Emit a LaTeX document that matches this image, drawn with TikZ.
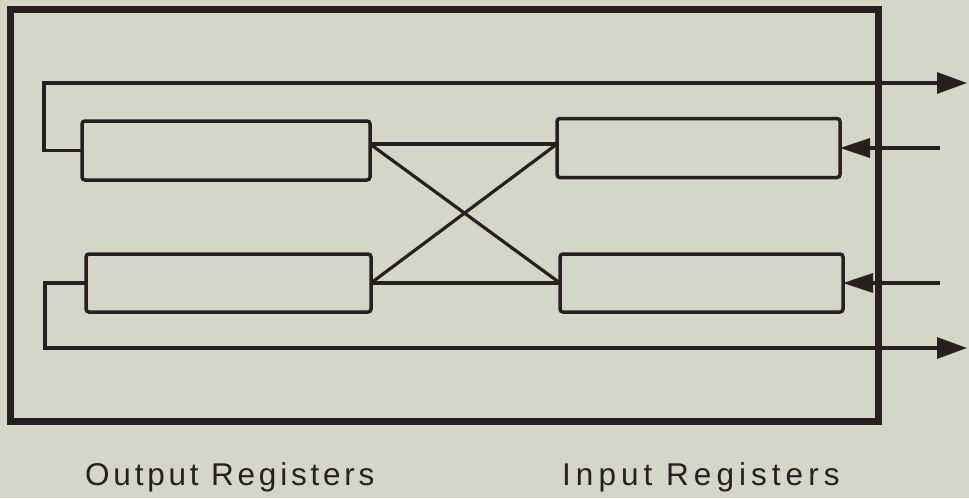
\documentclass[tikz,border=0pt]{standalone}
\usepackage{fontspec}
\setmainfont{Liberation Sans}[LetterSpace=12]
\usetikzlibrary{arrows.meta}
\definecolor{bg}{RGB}{212,214,200}
\definecolor{ink}{RGB}{40,32,32}
\tikzset{
  reg/.style={draw=ink, line width=3.5pt, rounded corners=3pt, rectangle, inner sep=0pt, outer sep=0pt},
  wire/.style={draw=ink, line width=3.2pt},
  outarrow/.style={wire, -{Triangle[length=30pt,width=21pt]}},
  inarrow/.style={wire, -{Triangle[length=30pt,width=19pt]}},
  frame/.style={draw=ink, line width=7pt},
  lbl/.style={text=ink, font=\fontsize{31.5pt}{33pt}\selectfont, inner sep=0pt, anchor=base west}
}
\begin{document}
\begin{tikzpicture}[x=1pt,y=-1pt]
\fill[bg] (0,0) rectangle (969,498);
\useasboundingbox (0,0) rectangle (969,498);
% frame
\node[frame, rectangle, minimum width=868pt, minimum height=412pt, inner sep=0pt, outer sep=0pt] (fr) at (444,215) {};
% registers
\node[reg, minimum width=288pt, minimum height=59pt] (tl) at (226,150.5) {};
\node[reg, minimum width=285pt, minimum height=58pt] (bl) at (228.5,283) {};
\node[reg, minimum width=283pt, minimum height=59pt] (tr) at (698.5,148) {};
\node[reg, minimum width=283pt, minimum height=58pt] (br) at (701.5,283) {};
% free ends
\coordinate (outT) at (967,83);
\coordinate (outB) at (967,348);
\coordinate (inT) at (940,148);
\coordinate (inB) at (940,283);
% cross connections
\draw[wire] (tl.east |- 0,144) -- (tr.west |- 0,144);
\draw[wire] (bl.east) -- (br.west);
\draw[wire] (tl.east |- 0,144) -- (br.west);
\draw[wire] (bl.east) -- (tr.west |- 0,144);
% output loops
\draw[outarrow] (tl.west) -| (44,83) -- (outT);
\draw[outarrow] (bl.west) -| (45,348) -- (outB);
% inputs
\draw[inarrow] (inT) -- (tr.east);
\draw[inarrow] (inB) -- (br.east);
% labels
\node[lbl] (lo) at (85,485) {Output Registers};
\node[lbl] (li) at (562,485) {\addfontfeature{LetterSpace=16}Input Registers};
\end{tikzpicture}
\end{document}
